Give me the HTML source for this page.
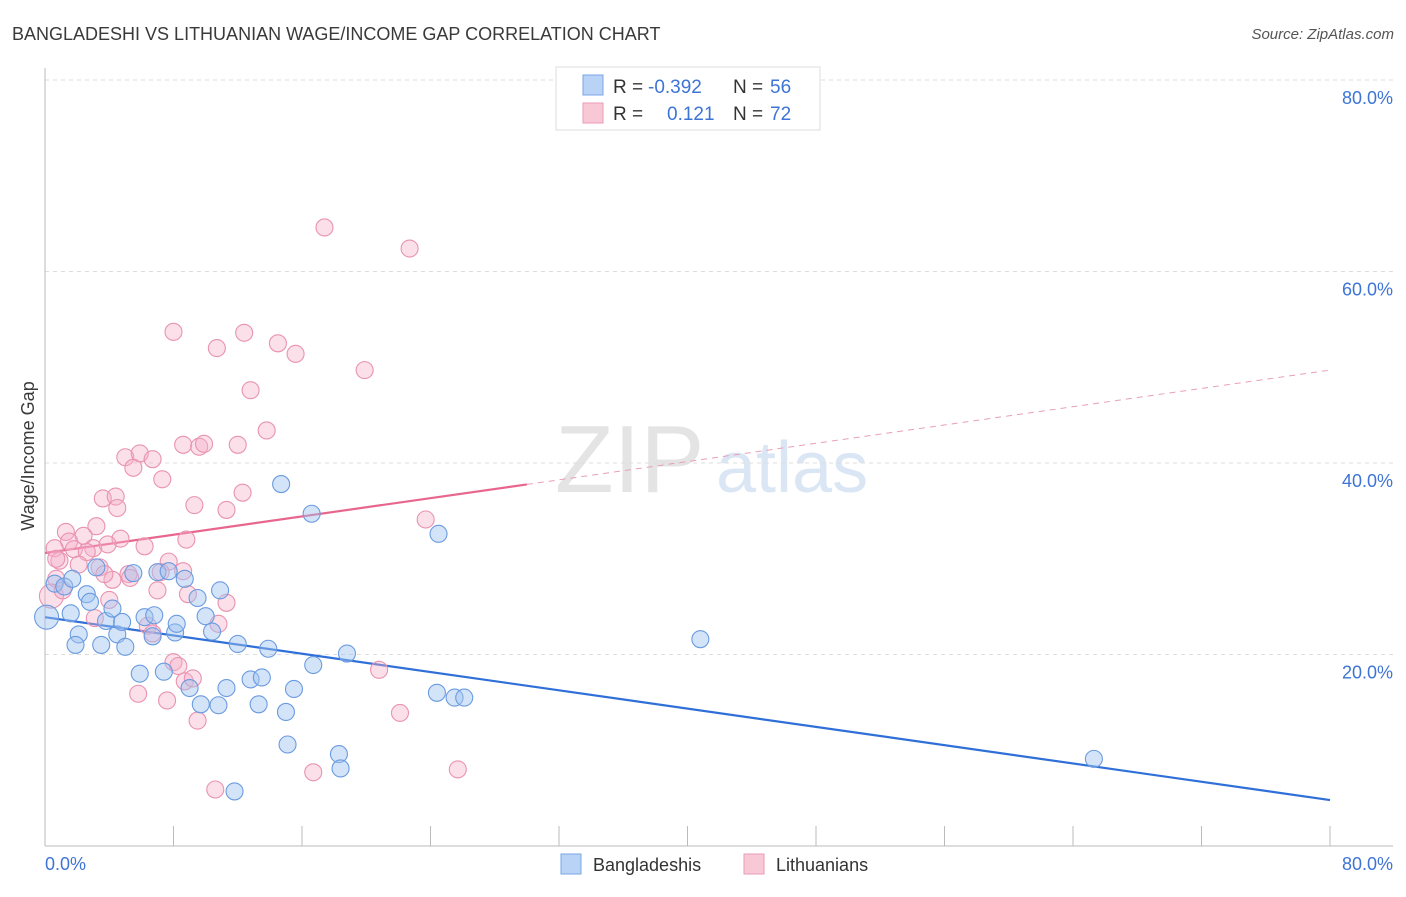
<!DOCTYPE html>
<html><head><meta charset="utf-8"><style>
body{margin:0;background:#fff;font-family:"Liberation Sans",sans-serif}
svg text{font-family:"Liberation Sans",sans-serif}
</style></head><body>
<svg id="chart" width="1406" height="892" viewBox="0 0 1406 892" xmlns="http://www.w3.org/2000/svg">
<text x="12" y="40" font-size="18" fill="#3a3a3a">BANGLADESHI VS LITHUANIAN WAGE/INCOME GAP CORRELATION CHART</text>
<text x="1394" y="39" font-size="15" fill="#555" font-style="italic" text-anchor="end">Source: ZipAtlas.com</text>
<g>
<text x="555" y="492" font-size="96" fill="#e4e4e4" font-family="Liberation Serif">ZIP</text>
<text x="716" y="492" font-size="72" fill="#dbe6f5">atlas</text>
</g>
<g id="grid"></g>
<g id="axes"></g>
<g id="trend"></g>
<g id="pts"></g>
<text x="34" y="456" font-size="18" fill="#3a3a3a" text-anchor="middle" transform="rotate(-90 34 456)">Wage/Income Gap</text>
<g>
<rect x="556" y="67" width="264" height="63" fill="#fff" stroke="#ddd"/>
<rect x="583" y="75" width="20" height="20" fill="#b8d3f5" stroke="#7aa6e4"/>
<rect x="583" y="103" width="20" height="20" fill="#f9c8d6" stroke="#eb9bb4"/>
<text y="93" font-size="19"><tspan x="613" fill="#333">R = </tspan><tspan x="648" fill="#3d74d6">-0.392</tspan><tspan x="733" fill="#333">N = </tspan><tspan x="770" fill="#3d74d6">56</tspan></text>
<text y="120" font-size="19"><tspan x="613" fill="#333">R = </tspan><tspan x="667" fill="#3d74d6">0.121</tspan><tspan x="733" fill="#333">N = </tspan><tspan x="770" fill="#3d74d6">72</tspan></text>
</g>
<g>
<rect x="561" y="854" width="20" height="20" fill="#b8d3f5" stroke="#7aa6e4"/>
<text x="593" y="871" font-size="18" fill="#333">Bangladeshis</text>
<rect x="744" y="854" width="20" height="20" fill="#f9c8d6" stroke="#eb9bb4"/>
<text x="776" y="871" font-size="18" fill="#333">Lithuanians</text>
</g>
</svg>
<script>
const blueX=[0.1,0.6,1.2,1.6,2.1,1.9,2.6,2.8,3.2,3.5,3.8,4.2,4.5,4.8,5.0,5.5,5.9,6.2,6.7,6.8,7.0,7.4,7.7,8.1,8.2,8.7,9.0,9.5,9.7,10.0,10.4,10.8,10.9,11.3,12.0,12.8,13.3,13.5,13.9,14.7,15.0,15.1,15.5,16.6,16.7,18.3,18.4,18.8,24.4,24.5,25.5,26.1,40.8,65.3,11.8,1.7];
const blueY=[23.9,27.4,27.1,24.3,22.1,21.0,26.3,25.5,29.1,21.0,23.5,24.8,22.1,23.4,20.8,28.5,18.0,23.9,21.9,24.1,28.6,18.2,28.7,22.3,23.2,27.9,16.5,25.9,14.8,24.0,22.4,14.7,26.7,16.5,21.1,17.4,14.8,17.6,20.6,37.8,14.0,10.6,16.4,34.7,18.9,9.6,8.1,20.1,16.0,32.6,15.5,15.5,21.6,9.1,5.7,27.9];
const pinkX=[17.4,22.7,8.0,12.4,10.7,14.5,15.6,19.9,12.8,13.8,8.6,5.0,5.9,6.7,9.6,9.9,12.0,5.5,7.3,3.6,4.4,12.3,9.3,11.3,4.5,23.7,3.2,1.3,2.4,1.5,3.0,4.7,0.6,1.8,3.9,2.6,6.2,8.8,0.9,2.1,3.4,7.7,0.7,0.4,4.2,5.2,7.2,5.3,7.0,8.9,11.3,3.1,6.4,6.7,10.8,8.0,8.3,8.7,9.2,5.8,7.6,9.5,20.8,22.1,16.7,25.7,10.6,0.7,1.1,3.7,8.6,4.0];
const pinkY=[64.6,62.4,53.7,53.6,52.0,52.5,51.4,49.7,47.6,43.4,41.9,40.6,41.0,40.4,41.7,42.0,41.9,39.5,38.3,36.3,36.5,36.9,35.6,35.1,35.3,34.1,33.4,32.8,32.4,31.8,31.1,32.1,31.1,31.0,31.5,30.7,31.3,32.0,29.8,29.4,29.1,29.7,27.9,26.1,27.8,28.4,28.6,28.0,26.7,26.3,25.4,23.8,23.0,22.2,23.2,19.2,18.8,17.2,17.5,15.9,15.2,13.1,18.4,13.9,7.7,8.0,5.9,30.0,26.7,28.4,28.7,25.7];
const blueTrend=[23.9,4.8];
const pinkTrend=[30.6,49.7];
const pinkSolidEnd=30;
const yTicks=[20,40,60,80];
const xTickLabels=["0.0%","80.0%"];

const NS="http://www.w3.org/2000/svg";
const X0=45,X1=1330,Y0=846,Y80=80;
const sx=v=>X0+v*(X1-X0)/80;
const sy=v=>Y0-v*(Y0-Y80)/80;
function mk(tag,attrs,parent){const e=document.createElementNS(NS,tag);for(const k in attrs)e.setAttribute(k,attrs[k]);parent.appendChild(e);return e;}
const grid=document.getElementById('grid'),axes=document.getElementById('axes'),trend=document.getElementById('trend'),pts=document.getElementById('pts');
yTicks.forEach(t=>{
  const l=mk('line',{x1:X0,x2:1393,y1:sy(t),y2:sy(t),stroke:'#ddd','stroke-dasharray':'4,4'},grid);
  
  
  const tx=mk('text',{x:1393,y:sy(t)+24,'font-size':18,fill:'#3d74d6','text-anchor':'end'},grid);
  tx.textContent=t.toFixed(1)+'%';
  
  
});
const al=mk('line',{x1:X0,x2:1393,y1:Y0,y2:Y0,stroke:'#bbb'},axes);


const yl=mk('line',{x1:X0,x2:X0,y1:68,y2:Y0,stroke:'#bbb'},axes);


for(let i=0;i<=10;i++){
  const tk=mk('line',{x1:sx(i*8),x2:sx(i*8),y1:826,y2:Y0,stroke:'#bbb'},axes);
  
  
}
const xl0=mk('text',{x:45,y:870,'font-size':18,fill:'#3d74d6'},axes);
xl0.textContent=xTickLabels[0];


const xl1=mk('text',{x:1393,y:870,'font-size':18,fill:'#3d74d6','text-anchor':'end'},axes);
xl1.textContent=xTickLabels[1];



function pointRadius(x){return x<0.5?12:8.5;}
function drawPts(xs,ys,fill,stroke,name){
  xs.forEach((x,i)=>{
    const c=mk('circle',{cx:sx(x),cy:sy(ys[i]),r:pointRadius(x),fill:fill,stroke:stroke,'stroke-width':1.1},pts);
    
    
  });
}
drawPts(pinkX,pinkY,'rgba(246,176,200,0.4)','#e993b0','lithuanian-point');
drawPts(blueX,blueY,'rgba(160,196,240,0.45)','#6a9be0','bangladeshi-point');

const bt=mk('line',{x1:sx(0),y1:sy(blueTrend[0]),x2:sx(80),y2:sy(blueTrend[1]),stroke:'#2f6fd8','stroke-width':2.2},trend);


const pAt=x=>pinkTrend[0]+(pinkTrend[1]-pinkTrend[0])*x/80;
const ps=mk('line',{x1:sx(0),y1:sy(pinkTrend[0]),x2:sx(pinkSolidEnd),y2:sy(pAt(pinkSolidEnd)),stroke:'#e8668e','stroke-width':2.2},trend);


const pd=mk('line',{x1:sx(pinkSolidEnd),y1:sy(pAt(pinkSolidEnd)),x2:sx(80),y2:sy(pinkTrend[1]),stroke:'#e8a0b6','stroke-width':1,'stroke-dasharray':'6,5'},trend);


</script>
</body></html>
